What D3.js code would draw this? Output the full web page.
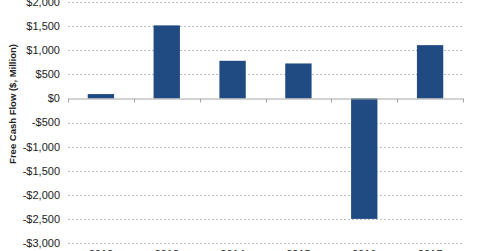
<!DOCTYPE html>
<html>
<head>
<meta charset="utf-8">
<script src="https://cdn.jsdelivr.net/npm/d3@7"></script>
<style>
  body { margin: 0; background: #fff; }
  svg { display: block; font-family: Arial, "Liberation Sans", sans-serif; }
  .grid line { stroke: #bdbdbd; stroke-dasharray: 2,2; }
  .tick-label { font-size: 11px; fill: #222; }
</style>
</head>
<body>
<svg id="chart"></svg>
<script>
var width = 480;
var height = 251;

// data
var years = ['2012', '2013', '2014', '2015', '2016', '2017'];
var freeCashFlow = [90, 1515, 780, 725, -2500, 1105];
var yTicks = [2000, 1500, 1000, 500, 0, -500, -1000, -1500, -2000, -2500, -3000];

var margin = { left: 68, right: 17, top: 2, bottom: 8 };

var svg = d3.select('#chart')
	.attr('width', width)
	.attr('height', height);

var x = d3.scaleBand()
	.domain(years)
	.range([margin.left, width - margin.right])
	.paddingInner(0.6)
	.paddingOuter(0.3);

var y = d3.scaleLinear()
	.domain([-3000, 2000])
	.range([243, 2]);

var fmt = function(v) {
	return (v < 0 ? '-$' : '$') + d3.format(',')(Math.abs(v));
};

// gridlines (dotted)
svg.append('g')
	.classed('grid', true)
	.selectAll('line')
	.data(yTicks.filter(function(d) { return d !== 0; }))
	.enter()
	.append('line')
	.attr('x1', margin.left)
	.attr('x2', width - margin.right)
	.attr('y1', function(d) { return Math.round(y(d)) + 0.5; })
	.attr('y2', function(d) { return Math.round(y(d)) + 0.5; });

// y tick labels
svg.append('g')
	.selectAll('text')
	.data(yTicks)
	.enter()
	.append('text')
	.classed('tick-label', true)
	.attr('x', 60)
	.attr('y', function(d) { return y(d); })
	.attr('dy', '0.36em')
	.attr('text-anchor', 'end')
	.text(fmt);

// bars
svg.append('g')
	.selectAll('rect')
	.data(freeCashFlow)
	.enter()
	.append('rect')
	.attr('x', function(d, i) { return x(years[i]); })
	.attr('width', x.bandwidth())
	.attr('y', function(d) { return y(Math.max(0, d)); })
	.attr('height', function(d) { return Math.abs(y(d) - y(0)); })
	.attr('fill', '#1f4a82');

// zero axis with ticks
var zeroY = Math.round(y(0)) + 0.5;
var xAxis = d3.axisBottom(x).tickSize(0).tickFormat('');
var axisG = svg.append('g')
	.attr('transform', 'translate(0,' + zeroY + ')')
	.call(xAxis);
axisG.select('.domain').attr('stroke', '#a6a6a6');
var step = x.step();
var bounds = d3.range(years.length + 1).map(function(i) { return margin.left + i * step; });
axisG.selectAll('line.sep')
	.data(bounds)
	.enter()
	.append('line')
	.classed('sep', true)
	.attr('x1', function(d) { return Math.round(d) + 0.5; })
	.attr('x2', function(d) { return Math.round(d) + 0.5; })
	.attr('y1', 0)
	.attr('y2', 4)
	.attr('stroke', '#a6a6a6');

// x labels (cut off at bottom edge)
svg.append('g')
	.selectAll('text')
	.data(years)
	.enter()
	.append('text')
	.classed('tick-label', true)
	.attr('x', function(d) { return x(d) + x.bandwidth() / 2; })
	.attr('y', 258)
	.attr('text-anchor', 'middle')
	.text(function(d) { return d; });

// y axis title
svg.append('text')
	.attr('transform', 'translate(16,104) rotate(-90)')
	.attr('text-anchor', 'middle')
	.style('font-size', '9.5px')
	.style('font-weight', 'bold')
	.style('fill', '#222')
	.text('Free Cash Flow ($, Million)');
</script>
</body>
</html>
